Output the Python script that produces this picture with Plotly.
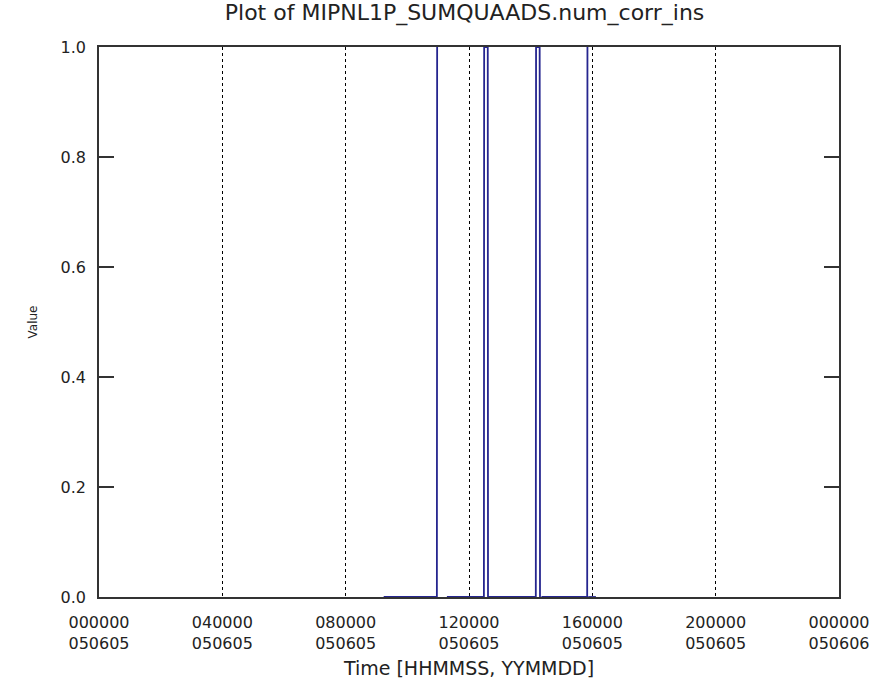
import plotly.graph_objects as go

# data (time of day on 2005-06-05, value); None marks a data gap
times = ["2005-06-05 09:14:00", "2005-06-05 10:57:30", "2005-06-05 10:58:00", None,
         "2005-06-05 11:17:00", "2005-06-05 12:29:00", "2005-06-05 12:29:30",
         "2005-06-05 12:36:30", "2005-06-05 12:37:00", "2005-06-05 14:10:00",
         "2005-06-05 14:10:30", "2005-06-05 14:17:30", "2005-06-05 14:18:00",
         "2005-06-05 14:18:10", None,
         "2005-06-05 14:21:00", "2005-06-05 15:50:00", "2005-06-05 15:50:30", None,
         "2005-06-05 15:52:00", "2005-06-05 16:07:00"]
values = [0, 0, 1.0, None,
          0, 0, 1.0,
          1.0, 0, 0,
          1.0, 1.0, 0.5,
          0, None,
          0, 0, 1.0, None,
          0, 0]

tick_vals = ["2005-06-05 00:00:00", "2005-06-05 04:00:00", "2005-06-05 08:00:00",
             "2005-06-05 12:00:00", "2005-06-05 16:00:00", "2005-06-05 20:00:00",
             "2005-06-06 00:00:00"]
tick_text = ["000000<br>050605", "040000<br>050605", "080000<br>050605",
             "120000<br>050605", "160000<br>050605", "200000<br>050605",
             "000000<br>050606"]
y_ticks = [0.0, 0.2, 0.4, 0.6, 0.8, 1.0]
y_text = ["0.0", "0.2", "0.4", "0.6", "0.8", "1.0"]

font_family = "DejaVu Sans, Liberation Sans, sans-serif"
text_color = "#222222"
axis_color = "#333333"

fig = go.Figure()
fig.add_trace(go.Scatter(
    x=times, y=values, mode="lines",
    line=dict(color="#25258f", width=1.8),
    connectgaps=False, showlegend=False, hoverinfo="skip",
))

fig.update_layout(
    width=889, height=697,
    paper_bgcolor="white", plot_bgcolor="white",
    margin=dict(l=99, r=50, t=47, b=100, autoexpand=False),
    font=dict(family=font_family, size=15, color=text_color),
    title=dict(text="Plot of MIPNL1P_SUMQUAADS.num_corr_ins",
               x=0.494, xref="paper", xanchor="center",
               y=0.983, yref="container", yanchor="middle",
               font=dict(size=22, color=text_color)),
)

fig.update_xaxes(
    type="date", automargin=False,
    range=[tick_vals[0], tick_vals[-1]],
    tickmode="array", tickvals=tick_vals, ticktext=tick_text,
    showgrid=True, gridcolor="black", griddash="dot", gridwidth=1,
    showline=True, linecolor=axis_color, linewidth=1.6, mirror=True,
    ticks="", zeroline=False, ticklabelstandoff=10,
    tickfont=dict(size=16, color=text_color),
    title=dict(text="Time [HHMMSS, YYMMDD]", font=dict(size=19, color=text_color), standoff=10),
)
fig.update_yaxes(
    range=[0, 1.0], automargin=False,
    tickmode="array", tickvals=y_ticks, ticktext=y_text,
    showgrid=False, zeroline=False,
    showline=True, linecolor=axis_color, linewidth=1.6, mirror="ticks",
    ticks="inside", ticklen=15, tickwidth=1.6, tickcolor=axis_color,
    ticklabelstandoff=8,
    tickfont=dict(size=16, color=text_color),
    title=dict(text="Value", font=dict(size=12, color=text_color), standoff=20),
)

fig.write_html("out.html",
               config={"displayModeBar": False},
               post_script="document.body.style.margin='0';")
